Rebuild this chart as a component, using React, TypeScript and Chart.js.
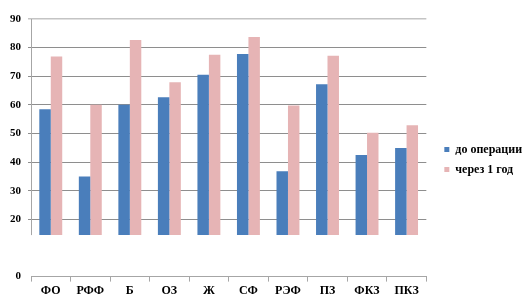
import React, { useEffect, useRef } from 'react';
import { Chart, registerables } from 'chart.js';

Chart.register(...registerables);

const categories = ['ФО', 'РФФ', 'Б', 'ОЗ', 'Ж', 'СФ', 'РЭФ', 'ПЗ', 'ФКЗ', 'ПКЗ'];
const seriesLabels = ['до операции', 'через 1 год'];
const beforeSurgery = [58.5, 35, 60, 62.7, 70.5, 77.8, 36.8, 67.2, 42.5, 44.9];
const afterOneYear = [76.9, 60, 82.7, 67.9, 77.5, 83.7, 59.8, 77.2, 50.3, 52.9];
const barBase = 14.5;
const yTicksShown = [0, 20, 30, 40, 50, 60, 70, 80, 90];

const serif = "'Liberation Serif', 'DejaVu Serif', serif";

const yAxisLine = {
  id: 'yAxisLine',
  beforeDatasetsDraw(chart: any) {
    const { ctx } = chart;
    const y = chart.scales.y;
    const x = Math.round(chart.chartArea.left) + 0.5;
    ctx.save();
    ctx.strokeStyle = '#a6a6a6';
    ctx.lineWidth = 1;
    ctx.beginPath();
    ctx.moveTo(x, y.getPixelForValue(90));
    ctx.lineTo(x, y.getPixelForValue(barBase));
    ctx.stroke();
    ctx.restore();
  },
};

export default function App() {
  const ref = useRef<HTMLCanvasElement | null>(null);
  useEffect(() => {
    let chart: any = null;
    let cancelled = false;
    const build = () => {
      if (cancelled || !ref.current) return;
      chart = new Chart(ref.current, {
        type: 'bar',
        data: {
          labels: categories,
          datasets: [
            {
              label: seriesLabels[0],
              data: beforeSurgery,
              backgroundColor: '#4A7EBB',
              base: barBase,
            } as any,
            {
              label: seriesLabels[1],
              data: afterOneYear,
              backgroundColor: '#E6B4B5',
              base: barBase,
            } as any,
          ],
        },
        options: {
          animation: false,
          responsive: true,
          maintainAspectRatio: false,
          datasets: { bar: { categoryPercentage: 0.58, barPercentage: 1 } },
          layout: { padding: { left: 3, top: 19, right: 9, bottom: 6 } },
          plugins: {
            tooltip: { enabled: false },
            legend: {
              position: 'right',
              labels: {
                boxWidth: 5,
                boxHeight: 5,
                padding: 8,
                color: '#000',
                font: { family: serif, weight: 'bold', size: 12 },
              },
            },
          },
          scales: {
            x: {
              grid: {
                offset: true,
                drawOnChartArea: false,
                tickLength: 5,
                color: '#a6a6a6',
              },
              border: { display: true, color: '#a6a6a6' },
              ticks: {
                padding: 2,
                color: '#000',
                font: { family: serif, weight: 'bold', size: 12 },
              },
            },
            y: {
              min: 0,
              max: 90,
              ticks: {
                stepSize: 10,
                padding: 7,
                color: '#000',
                font: { family: serif, weight: 'bold', size: 11 },
                callback: (v: any) => (yTicksShown.includes(Number(v)) ? String(v) : ''),
              },
              grid: {
                color: (c: any) =>
                  c.tick && c.tick.value >= 20
                    ? c.tick.value === 90
                      ? '#c4c4c4'
                      : '#8e8e8e'
                    : 'rgba(0,0,0,0)',
                lineWidth: (c: any) => (c.tick && c.tick.value === 90 ? 1.5 : 1),
                tickLength: 3,
              },
              border: { display: false },
            },
            yR: {
              position: 'right',
              display: true,
              grid: { display: false },
              ticks: { display: false },
              border: { display: false },
              afterFit: (s: any) => {
                s.width = 10;
              },
            } as any,
          },
        },
        plugins: [yAxisLine],
      });
    };
    const fonts: any = (document as any).fonts;
    if (fonts && fonts.load) {
      Promise.all([
        fonts.load("bold 11px 'Liberation Serif'", 'до 90'),
        fonts.load("bold 12px 'Liberation Serif'", 'ФО'),
      ])
        .catch(() => null)
        .then(build);
    } else {
      build();
    }
    return () => {
      cancelled = true;
      if (chart) chart.destroy();
    };
  }, []);
  return (
    <div style={{ position: 'fixed', left: 0, top: 0, width: 532, height: 306, background: '#fff', fontFamily: "'Liberation Serif', serif" }}>
      <canvas ref={ref} />
    </div>
  );
}
